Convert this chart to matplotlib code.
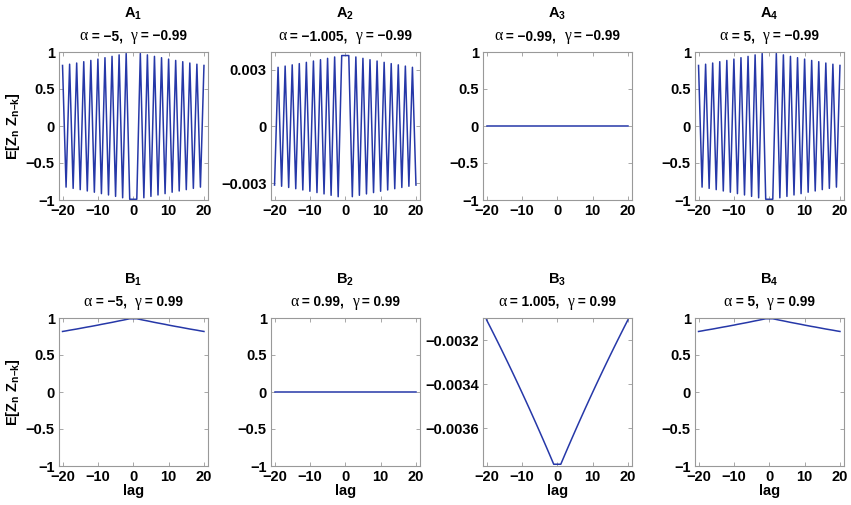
import matplotlib
matplotlib.use("Agg")
import matplotlib.pyplot as plt
from matplotlib.offsetbox import TextArea, HPacker, AnchoredOffsetbox

plt.rcParams['font.family'] = ['Liberation Sans', 'DejaVu Sans']
plt.rcParams['font.weight'] = 'bold'
plt.rcParams['mathtext.fontset'] = 'custom'
plt.rcParams['mathtext.rm'] = 'Liberation Sans:bold'
plt.rcParams['mathtext.bf'] = 'Liberation Sans:bold'
plt.rcParams['mathtext.it'] = 'Liberation Sans:bold'
plt.rcParams['mathtext.default'] = 'bf'

# lags (lag 0 not plotted)
lags = [-20, -19, -18, -17, -16, -15, -14, -13, -12, -11, -10, -9, -8, -7, -6, -5, -4, -3, -2, -1,
        1, 2, 3, 4, 5, 6, 7, 8, 9, 10, 11, 12, 13, 14, 15, 16, 17, 18, 19, 20]

a1 = [0.818, -0.826, 0.835, -0.843, 0.851, -0.860, 0.869, -0.878, 0.886, -0.895,
      0.904, -0.914, 0.923, -0.932, 0.941, -0.951, 0.961, -0.970, 0.980, -0.990,
      -0.990, 0.980, -0.970, 0.961, -0.951, 0.941, -0.932, 0.923, -0.914, 0.904,
      -0.895, 0.886, -0.878, 0.869, -0.860, 0.851, -0.843, 0.835, -0.826, 0.818]
a2 = [-0.0031081, 0.0031394, -0.0031712, 0.0032032, -0.0032355, 0.0032682, -0.0033012, 0.0033346,
      -0.0033683, 0.0034023, -0.0034367, 0.0034714, -0.0035064, 0.0035419, -0.0035776, 0.0036138,
      -0.0036503, 0.0036871, -0.0037244, 0.0037620,
      0.0037620, -0.0037244, 0.0036871, -0.0036503, 0.0036138, -0.0035776, 0.0035419, -0.0035064,
      0.0034714, -0.0034367, 0.0034023, -0.0033683, 0.0033346, -0.0033012, 0.0032682, -0.0032355,
      0.0032032, -0.0031712, 0.0031394, -0.0031081]
a3 = [0.0] * 40
a4 = [0.818, -0.826, 0.835, -0.843, 0.851, -0.860, 0.869, -0.878, 0.886, -0.895,
      0.904, -0.914, 0.923, -0.932, 0.941, -0.951, 0.961, -0.970, 0.980, -0.990,
      -0.990, 0.980, -0.970, 0.961, -0.951, 0.941, -0.932, 0.923, -0.914, 0.904,
      -0.895, 0.886, -0.878, 0.869, -0.860, 0.851, -0.843, 0.835, -0.826, 0.818]
b1 = [0.818, 0.826, 0.835, 0.843, 0.851, 0.860, 0.869, 0.878, 0.886, 0.895,
      0.904, 0.914, 0.923, 0.932, 0.941, 0.951, 0.961, 0.970, 0.980, 0.990,
      0.990, 0.980, 0.970, 0.961, 0.951, 0.941, 0.932, 0.923, 0.914, 0.904,
      0.895, 0.886, 0.878, 0.869, 0.860, 0.851, 0.843, 0.835, 0.826, 0.818]
b2 = [0.0] * 40
b3 = [-0.0031081, -0.0031394, -0.0031712, -0.0032032, -0.0032355, -0.0032682, -0.0033012, -0.0033346,
      -0.0033683, -0.0034023, -0.0034367, -0.0034714, -0.0035064, -0.0035419, -0.0035776, -0.0036138,
      -0.0036503, -0.0036871, -0.0037244, -0.0037620,
      -0.0037620, -0.0037244, -0.0036871, -0.0036503, -0.0036138, -0.0035776, -0.0035419, -0.0035064,
      -0.0034714, -0.0034367, -0.0034023, -0.0033683, -0.0033346, -0.0033012, -0.0032682, -0.0032355,
      -0.0032032, -0.0031712, -0.0031394, -0.0031081]
b4 = [0.818, 0.826, 0.835, 0.843, 0.851, 0.860, 0.869, 0.878, 0.886, 0.895,
      0.904, 0.914, 0.923, 0.932, 0.941, 0.951, 0.961, 0.970, 0.980, 0.990,
      0.990, 0.980, 0.970, 0.961, 0.951, 0.941, 0.932, 0.923, 0.914, 0.904,
      0.895, 0.886, 0.878, 0.869, 0.860, 0.851, 0.843, 0.835, 0.826, 0.818]

panel_names = ['A_1', 'A_2', 'A_3', 'A_4', 'B_1', 'B_2', 'B_3', 'B_4']
alphas = ['\u22125', '\u22121.005', '\u22120.99', '5', '\u22125', '0.99', '1.005', '5']
gammas = ['\u22120.99', '\u22120.99', '\u22120.99', '\u22120.99', '0.99', '0.99', '0.99', '0.99']
series = [a1, a2, a3, a4, b1, b2, b3, b4]

unit_ticks = [-1, -0.5, 0, 0.5, 1]
unit_labels = ['\u22121', '\u22120.5', '0', '0.5', '1']
a2_ticks = [-0.003, 0, 0.003]
a2_labels = ['\u22120.003', '0', '0.003']
b3_ticks = [-0.0036, -0.0034, -0.0032]
b3_labels = ['\u22120.0036', '\u22120.0034', '\u22120.0032']
x_ticks = [-20, -10, 0, 10, 20]
x_labels = ['\u221220', '\u221210', '0', '10', '20']

W, H = 851, 505
fig = plt.figure(figsize=(W / 100, H / 100), dpi=100)

lefts = [59, 271, 483, 695]
tops = [52, 318]
aw, ah = 148.5, 148

line_color = '#2638a8'
frame_color = '#999999'
fs_tick = 10.5
fs_sub = 9.8

for i in range(8):
    r, c = divmod(i, 4)
    ax = fig.add_axes([lefts[c] / W, 1 - (tops[r] + ah) / H, aw / W, ah / H])
    ax.plot(lags, series[i], color=line_color, lw=1.1)
    ax.set_xlim(-21, 21)
    ax.set_xticks(x_ticks)
    ax.set_xticklabels(x_labels)
    if i == 1:
        ax.set_ylim(-0.0039, 0.00395)
        ax.set_yticks(a2_ticks)
        ax.set_yticklabels(a2_labels)
    elif i == 6:
        ax.set_ylim(-0.00377, -0.0031)
        ax.set_yticks(b3_ticks)
        ax.set_yticklabels(b3_labels)
    else:
        ax.set_ylim(-1, 1)
        ax.set_yticks(unit_ticks)
        ax.set_yticklabels(unit_labels)
    for s in ax.spines.values():
        s.set_color(frame_color)
        s.set_linewidth(0.8)
    ax.tick_params(direction='in', length=3, width=0.6, color=frame_color,
                   top=True, right=True, labelsize=fs_tick, pad=3)
    for lab in ax.get_xticklabels() + ax.get_yticklabels():
        lab.set_fontweight('bold')
    ax.text(0.5, 1 + 38 / ah, r'$\mathbf{%s}$' % panel_names[i], transform=ax.transAxes,
            ha='center', va='center', fontsize=10.5)
    greek = dict(family='Liberation Serif', weight='normal', size=fs_sub + 1.5, color='black')
    bold = dict(family='Liberation Sans', weight='bold', size=fs_sub, color='black')
    parts = [TextArea('\u03b1', textprops=greek),
             TextArea(' = %s,  ' % alphas[i], textprops=bold),
             TextArea('\u03b3', textprops=greek),
             TextArea(' = %s' % gammas[i], textprops=bold)]
    box = HPacker(children=parts, align='baseline', pad=0, sep=0)
    anchored = AnchoredOffsetbox(loc='center', child=box, pad=0, borderpad=0, frameon=False,
                                 bbox_to_anchor=(0.5, 1 + 16 / ah), bbox_transform=ax.transAxes)
    ax.add_artist(anchored)
    if c == 0:
        ax.set_ylabel('$\\mathbf{E[Z_n\\ Z_{n\u2013k}]}$', fontsize=10.5, labelpad=3)
    if r == 1:
        ax.set_xlabel('lag', fontsize=10.5, fontweight='bold', labelpad=0)

fig.savefig('out.png', dpi=100)
